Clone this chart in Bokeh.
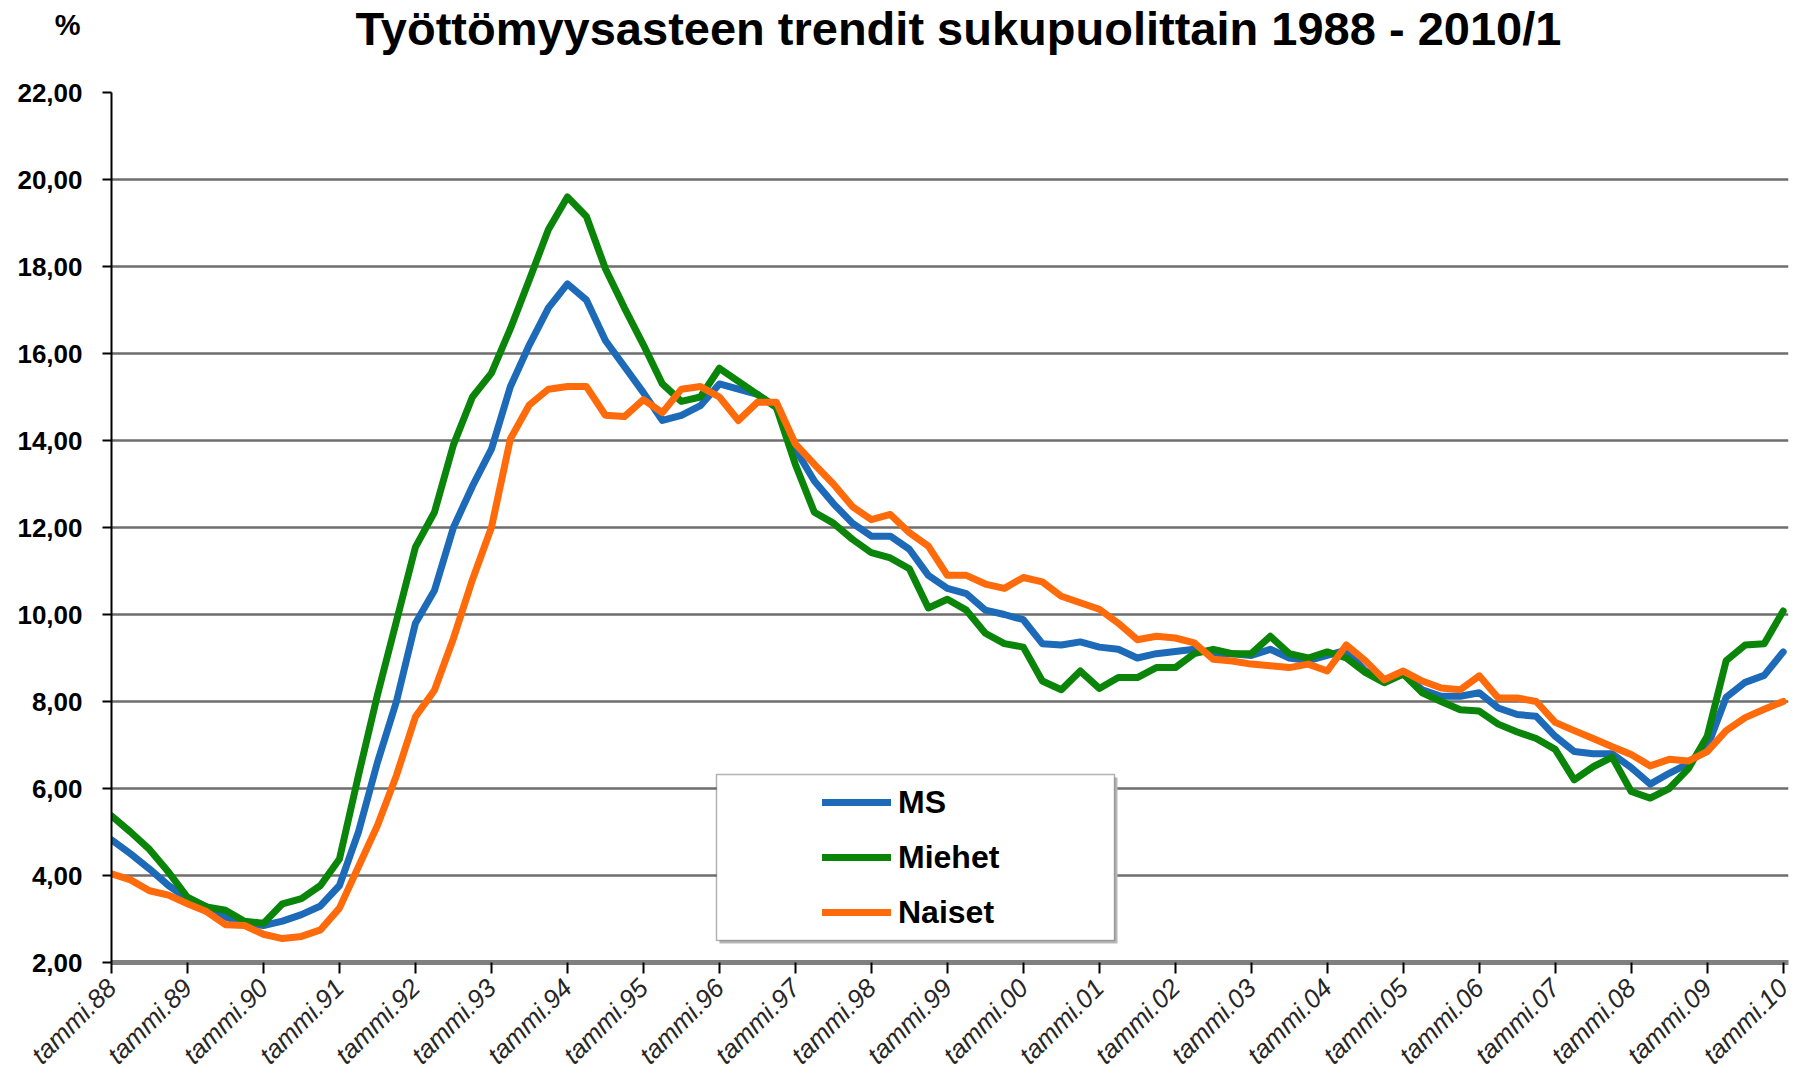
from bokeh.plotting import figure
from bokeh.layouts import column
from bokeh.models import FixedTicker, Legend, LegendItem, Label, BoxAnnotation, ColumnDataSource
from bokeh.embed import file_html
from bokeh.resources import INLINE
import math

title_text = "Työttömyysasteen trendit sukupuolittain  1988 - 2010/1"
unit_text = "%"
series_names = ["MS", "Miehet", "Naiset"]
series_colors = ["#1c6ab8", "#0a850a", "#ff6a0a"]
start_year = 1988
steps_per_year = 4  # quarterly readings

ms = [
    4.82, 4.50, 4.15, 3.77,
    3.47, 3.28, 3.05, 2.90,
    2.85, 2.95, 3.10, 3.30,
    3.77, 5.00, 6.60, 8.00,
    9.80, 10.55, 12.00, 12.95,
    13.80, 15.24, 16.20, 17.05,
    17.60, 17.23, 16.30, 15.70,
    15.10, 14.46, 14.58, 14.80,
    15.30, 15.18, 15.06, 14.76,
    13.80, 13.07, 12.55, 12.10,
    11.80, 11.80, 11.50, 10.90,
    10.60, 10.48, 10.10, 10.00,
    9.88, 9.33, 9.30, 9.37,
    9.25, 9.20, 9.00, 9.10,
    9.15, 9.20, 9.10, 9.10,
    9.06, 9.20, 9.00, 8.94,
    9.06, 9.18, 8.70, 8.50,
    8.63, 8.27, 8.12, 8.12,
    8.20, 7.85, 7.70, 7.66,
    7.20, 6.85, 6.80, 6.80,
    6.48, 6.10, 6.35, 6.57,
    6.95, 8.10, 8.44, 8.60,
    9.14,
]

miehet = [
    5.37, 5.00, 4.60, 4.08,
    3.50, 3.28, 3.20, 2.95,
    2.90, 3.35, 3.47, 3.77,
    4.38, 6.30, 8.15, 9.85,
    11.55, 12.35, 13.90, 15.00,
    15.55, 16.57, 17.70, 18.85,
    19.60, 19.15, 17.95, 17.05,
    16.20, 15.30, 14.90, 15.00,
    15.66, 15.36, 15.06, 14.76,
    13.45, 12.35, 12.10, 11.73,
    11.42, 11.30, 11.05, 10.15,
    10.35, 10.10, 9.57, 9.33,
    9.25, 8.47, 8.27, 8.70,
    8.30, 8.55, 8.55, 8.78,
    8.78, 9.10, 9.20, 9.10,
    9.10, 9.50, 9.10, 9.00,
    9.14, 9.00, 8.67, 8.43,
    8.63, 8.20, 8.00, 7.81,
    7.78, 7.48, 7.30, 7.15,
    6.90, 6.20, 6.50, 6.72,
    5.93, 5.78, 6.00, 6.45,
    7.20, 8.94, 9.30, 9.33,
    10.08,
]

naiset = [
    4.04, 3.90, 3.65, 3.55,
    3.35, 3.17, 2.87, 2.85,
    2.65, 2.55, 2.60, 2.75,
    3.25, 4.20, 5.15, 6.30,
    7.65, 8.26, 9.45, 10.80,
    12.00, 14.04, 14.82, 15.18,
    15.24, 15.24, 14.58, 14.55,
    14.94, 14.64, 15.18, 15.24,
    15.00, 14.46, 14.88, 14.88,
    13.92, 13.45, 13.00, 12.48,
    12.18, 12.30, 11.88, 11.57,
    10.90, 10.90, 10.70, 10.60,
    10.85, 10.75, 10.42, 10.27,
    10.12, 9.80, 9.42, 9.50,
    9.46, 9.35, 8.97, 8.93,
    8.86, 8.82, 8.78, 8.86,
    8.70, 9.30, 8.94, 8.50,
    8.70, 8.47, 8.31, 8.27,
    8.59, 8.08, 8.08, 8.00,
    7.52, 7.33, 7.15, 6.96,
    6.78, 6.52, 6.67, 6.63,
    6.85, 7.33, 7.63, 7.82,
    8.00,
]

x_tick_years = list(range(1988, 2011))
x_tick_labels = ["tammi.88", "tammi.89", "tammi.90", "tammi.91", "tammi.92", "tammi.93",
                 "tammi.94", "tammi.95", "tammi.96", "tammi.97", "tammi.98", "tammi.99",
                 "tammi.00", "tammi.01", "tammi.02", "tammi.03", "tammi.04", "tammi.05",
                 "tammi.06", "tammi.07", "tammi.08", "tammi.09", "tammi.10"]
y_ticks = [2, 4, 6, 8, 10, 12, 14, 16, 18, 20, 22]
y_tick_labels = ["2,00", "4,00", "6,00", "8,00", "10,00", "12,00", "14,00",
                 "16,00", "18,00", "20,00", "22,00"]

t = [start_year + i / steps_per_year for i in range(len(ms))]
source = ColumnDataSource(data=dict(t=t, MS=ms, Miehet=miehet, Naiset=naiset))

W = 1802
HEADER_H = 60
FRAME_L, FRAME_R = 111, 1788

# ---- header with title and unit (its frame is aligned with the chart frame) ----
head = figure(width=W, height=HEADER_H, x_range=(FRAME_L, FRAME_R), y_range=(0, HEADER_H),
              output_backend="svg", toolbar_location=None, x_axis_location=None,
              min_border_left=0, min_border_right=0, min_border_top=0, min_border_bottom=0)
head.outline_line_color = None
head.xgrid.grid_line_color = None
head.ygrid.grid_line_color = None
UNIT_FS = 29
unit_pos = HEADER_H - 24.5
head.yaxis.ticker = FixedTicker(ticks=[unit_pos], minor_ticks=[])
head.yaxis.major_label_overrides = {unit_pos: unit_text}
head.yaxis.axis_line_color = None
head.yaxis.major_tick_line_color = None
head.yaxis.minor_tick_line_color = None
head.yaxis.major_tick_out = 0
head.yaxis.major_tick_in = 0
head.yaxis.major_label_standoff = 31
head.yaxis.major_label_text_font = "Liberation Sans"
head.yaxis.major_label_text_font_style = "bold"
head.yaxis.major_label_text_font_size = f"{UNIT_FS}px"
head.yaxis.major_label_text_color = "black"

TITLE_FS = 47
TITLE_BASELINE = 44
head.add_layout(Label(x=964.5, y=HEADER_H - (TITLE_BASELINE - 0.35 * TITLE_FS), text=title_text,
                      text_font="Liberation Sans", text_font_style="bold",
                      text_font_size=f"{TITLE_FS}px", text_align="center",
                      text_baseline="middle", text_color="black"))

# ---- main chart ----
p = figure(width=W, height=1083 - HEADER_H, x_range=(1988, 2010.07), y_range=(2, 22),
           output_backend="svg", toolbar_location=None,
           min_border_left=FRAME_L, min_border_right=W - FRAME_R, min_border_top=92 - HEADER_H,
           min_border_bottom=121)
p.outline_line_color = None
p.background_fill_color = "white"
p.border_fill_color = "white"

p.xaxis.ticker = FixedTicker(ticks=x_tick_years, minor_ticks=[])
p.xaxis.major_label_overrides = dict(zip(x_tick_years, x_tick_labels))
p.xaxis.major_label_orientation = math.pi / 4
p.xaxis.major_label_text_font = "Liberation Sans"
p.xaxis.major_label_text_font_style = "italic"
p.xaxis.major_label_text_font_size = "26px"
p.xaxis.major_label_text_color = "#262626"
p.xaxis.major_label_standoff = 10
p.xaxis.axis_line_color = "#808080"
p.xaxis.axis_line_width = 5
p.xaxis.major_tick_line_color = "black"
p.xaxis.major_tick_line_width = 2
p.xaxis.major_tick_out = 11
p.xaxis.major_tick_in = 0
p.xaxis.minor_tick_line_color = None

p.yaxis.ticker = FixedTicker(ticks=y_ticks, minor_ticks=[])
p.yaxis.major_label_overrides = dict(zip(y_ticks, y_tick_labels))
p.yaxis.major_label_text_font = "Liberation Sans"
p.yaxis.major_label_text_font_style = "bold"
p.yaxis.major_label_text_font_size = "26px"
p.yaxis.major_label_text_color = "black"
p.yaxis.major_label_standoff = 20
p.yaxis.axis_line_color = "black"
p.yaxis.axis_line_width = 2
p.yaxis.major_tick_line_color = "black"
p.yaxis.major_tick_line_width = 2
p.yaxis.major_tick_out = 9
p.yaxis.major_tick_in = 0
p.yaxis.minor_tick_line_color = None

p.xgrid.grid_line_color = None
p.ygrid.ticker = FixedTicker(ticks=y_ticks[1:-1])
p.ygrid.grid_line_color = "#6e6e6e"
p.ygrid.grid_line_width = 2.5

renderers = []
for name, color in zip(series_names, series_colors):
    r = p.line("t", name, source=source, line_color=color, line_width=7,
               line_join="round", line_cap="round")
    renderers.append(r)

shadow = BoxAnnotation(left=608, right=1006, top=185, bottom=19,
                       left_units="screen", right_units="screen",
                       top_units="screen", bottom_units="screen",
                       fill_color="#b8b8b8", fill_alpha=1.0, line_color=None, level="annotation")
box = BoxAnnotation(left=605, right=1003, top=188, bottom=22,
                    left_units="screen", right_units="screen",
                    top_units="screen", bottom_units="screen",
                    fill_color="white", fill_alpha=1.0, line_color="black",
                    line_width=1.5, level="annotation")
p.add_layout(shadow)
p.add_layout(box)

legend = Legend(items=[LegendItem(label=n, renderers=[r]) for n, r in zip(series_names, renderers)],
                location=(701, 20), padding=10, spacing=15, glyph_width=69, glyph_height=40,
                label_height=40, label_standoff=7, border_line_alpha=0,
                background_fill_alpha=0, label_text_font="Liberation Sans",
                label_text_font_style="bold", label_text_font_size="32px",
                label_text_color="black")
p.add_layout(legend)

layout = column(head, p, spacing=0)
open("out.html", "w").write(file_html(layout, INLINE))
